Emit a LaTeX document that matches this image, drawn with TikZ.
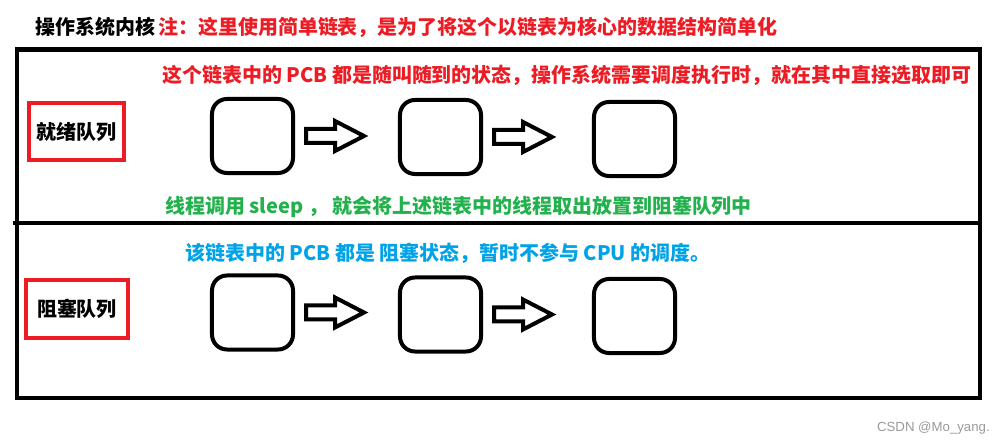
\documentclass[tikz,border=0pt]{standalone}
\usepackage{fontspec}
\newfontfamily\cjk{Noto Sans CJK SC}
\newfontfamily\wmfont{Liberation Sans}
\usetikzlibrary{calc}
\definecolor{paintred}{HTML}{ED1C24}
\definecolor{paintgreen}{HTML}{22B14C}
\definecolor{paintblue}{HTML}{00A2E8}
\begin{document}
\begin{tikzpicture}[
    x=0.025cm, y=-0.025cm,
    pcb/.style={rectangle, draw=black, line width=0.1cm, minimum width=2.025cm, minimum height=1.85cm, inner sep=0pt, rounded corners=0.375cm},
    queue/.style={rectangle, draw=paintred, line width=0.1cm, inner sep=0pt, font=\cjk\bfseries\fontsize{14.2}{17}\selectfont},
    note/.style={anchor=west, inner sep=0pt, font=\cjk\bfseries\fontsize{14.2}{17}\selectfont},
    blockarr/.style={draw=black, line width=0.1cm, line join=miter}
]
\useasboundingbox (0,0) rectangle (1002,445);

% Title
\node[note] (kernel) at (35,27) {操作系统内核};
\node[note, text=paintred] (hint) at (158,27) {注：这里使用简单链表，是为了将这个以链表为核心的数据结构简单化};

% Frame
\draw[line width=0.115cm] (17,49.5) rectangle (980,398);
\draw[line width=0.115cm] (13,223) -- (980,223);

% Ready queue
\node[queue, minimum width=2.36cm, minimum height=1.43cm] (ready) at (76.5,131.5) {就绪队列};
\node[note, text=paintred] (readytxt) at (162,75) {这个链表中的 PCB 都是随叫随到的状态，操作系统需要调度执行时，就在其中直接选取即可};
\node[pcb] (r1) at (252.5,136) {};
\node[pcb] (r2) at (440.5,137) {};
\node[pcb] (r3) at (634.5,139) {};
\node[note, text=paintgreen] (sleeptxt) at (165,207) {线程调用 sleep ， 就会将上述链表中的线程取出放置到阻塞队列中};

% Blocked queue
\node[queue, minimum width=2.55cm, minimum height=1.45cm] (blocked) at (77,309) {阻塞队列};
\node[note, text=paintblue] (blockedtxt) at (185,253) {该链表中的 PCB 都是 阻塞状态，暂时不参与 CPU 的调度。};
\node[pcb] (k1) at (252.5,312.5) {};
\node[pcb] (k2) at (440.5,314.5) {};
\node[pcb] (k3) at (634.5,316) {};

% Arrows
\foreach \a in {r1,r2,k1,k2}
  \draw[blockarr] ($(\a.east)+(11,-7)$) -- ++(29,0) -- ++(0,-8) -- ++(29,15) -- ++(-29,15) -- ++(0,-8) -- ++(-29,0) -- cycle;

% Watermark
\node[anchor=east, inner sep=0pt, text=black!40, font=\wmfont\fontsize{9.4}{11}\selectfont] (mark) at (990,428) {CSDN @Mo\_yang.};

\end{tikzpicture}
\end{document}
